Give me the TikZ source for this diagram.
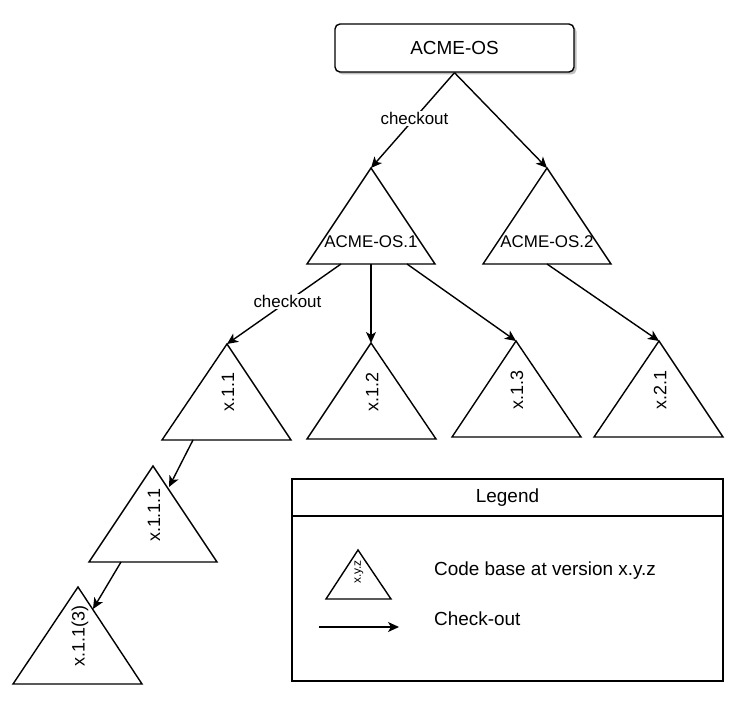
\documentclass[tikz,border=0pt]{standalone}
\usepackage{fontspec}
\setmainfont{Liberation Sans}
\usetikzlibrary{arrows.meta,shadows}
\tikzset{
  rootbox/.style={draw, line width=1.4bp, rounded corners=5bp, minimum width=239bp, minimum height=48bp,
    inner sep=0pt, fill=white, font=\fontsize{19}{22}\selectfont,
    drop shadow={shadow xshift=2.5bp, shadow yshift=-2.5bp, fill=black, opacity=0.25}},
  tri/.style={draw, line width=1.4bp, line join=miter},
  lbl/.style={inner sep=0pt, font=\fontsize{17}{20}\selectfont},
  vlbl/.style={lbl, rotate=90, font=\fontsize{18}{20}\selectfont},
  edgelbl/.style={fill=white, inner sep=1.5bp, font=\fontsize{17}{20}\selectfont},
  conn/.style={draw, line width=1.4bp, -{Stealth[length=11bp,width=10bp,inset=3bp]}},
  legbox/.style={draw, line width=1.8bp, minimum width=431bp, inner sep=0pt},
  legtext/.style={inner sep=0pt, anchor=west, font=\fontsize{19}{22}\selectfont},
}
\begin{document}
\begin{tikzpicture}[x=1bp,y=-1bp]
\useasboundingbox (0,0) rectangle (746,713);

% root
\node[rootbox] (root) at (454.5,48) {ACME-OS};

% ACME-OS.1
\coordinate (a1top) at (371,168); \coordinate (a1l) at (307,264); \coordinate (a1r) at (435,264);
\draw[tri] (a1top) -- (a1r) -- (a1l) -- cycle;
\node[lbl] (a1txt) at (371,242) {ACME-OS.1};
% ACME-OS.2
\coordinate (a2top) at (547,168); \coordinate (a2l) at (483,264); \coordinate (a2r) at (611,264);
\draw[tri] (a2top) -- (a2r) -- (a2l) -- cycle;
\node[lbl] (a2txt) at (547,242) {ACME-OS.2};

% x.1.1
\coordinate (t11top) at (227,344); \coordinate (t11l) at (162,440); \coordinate (t11r) at (291,440);
\draw[tri] (t11top) -- (t11r) -- (t11l) -- cycle;
\node[vlbl] (t11txt) at (228,392) {x.1.1};
% x.1.2
\coordinate (t12top) at (371,343); \coordinate (t12l) at (307,439); \coordinate (t12r) at (436,439);
\draw[tri] (t12top) -- (t12r) -- (t12l) -- cycle;
\node[vlbl] (t12txt) at (372,392) {x.1.2};
% x.1.3
\coordinate (t13top) at (516,341); \coordinate (t13l) at (452,437); \coordinate (t13r) at (581,437);
\draw[tri] (t13top) -- (t13r) -- (t13l) -- cycle;
\node[vlbl] (t13txt) at (517,390) {x.1.3};
% x.2.1
\coordinate (t21top) at (659,341); \coordinate (t21l) at (594,437); \coordinate (t21r) at (723,437);
\draw[tri] (t21top) -- (t21r) -- (t21l) -- cycle;
\node[vlbl] (t21txt) at (660,390) {x.2.1};
% x.1.1.1
\coordinate (t111top) at (153,466); \coordinate (t111l) at (89,562); \coordinate (t111r) at (217,562);
\draw[tri] (t111top) -- (t111r) -- (t111l) -- cycle;
\node[vlbl] (t111txt) at (154,515) {x.1.1.1};
% x.1.1(3)
\coordinate (t113top) at (78,587); \coordinate (t113l) at (13,684); \coordinate (t113r) at (142,684);
\draw[tri] (t113top) -- (t113r) -- (t113l) -- cycle;
\node[vlbl] (t113txt) at (80,636) {x.1.1(3)};

% connector end points
\coordinate (a1o1) at (341,264);
\coordinate (a1o2) at (371,264);
\coordinate (a1o3) at (407,264);
\coordinate (a2o1) at (547,264);
\coordinate (t11o) at (193,440);
\coordinate (t111in) at (169,487);
\coordinate (t111o) at (121,562);
\coordinate (t113in) at (93,609);

% connectors
\draw[conn] (root.south) -- (a1top) node[edgelbl, pos=0.48] (ck1) {checkout};
\draw[conn] (root.south) -- (a2top);
\draw[conn] (a1o1) -- (t11top) node[edgelbl, pos=0.47] (ck2) {checkout};
\draw[conn] (a1o2) -- (t12top);
\draw[conn] (a1o3) -- (t13top);
\draw[conn] (a2o1) -- (t21top);
\draw[conn] (t11o) -- (t111in);
\draw[conn] (t111o) -- (t113in);

% legend
\node[legbox, minimum height=37bp, font=\fontsize{19}{22}\selectfont] (leghead) at (507.5,497.5) {Legend};
\node[legbox, minimum height=165bp] (legbody) at (507.5,598.5) {};
\coordinate (lttop) at (358,550); \coordinate (ltl) at (326,599); \coordinate (ltr) at (391,599);
\draw[tri] (lttop) -- (ltr) -- (ltl) -- cycle;
\node[inner sep=0pt, rotate=90, font=\fontsize{12}{14}\selectfont] (lttxt) at (359,572) {x.y.z};
\coordinate (lgs) at (319,627); \coordinate (lge) at (399,627);
\draw[conn] (lgs) -- (lge);
\node[legtext] (leg1) at (434,571) {Code base at version x.y.z};
\node[legtext] (leg2) at (434,619) {Check-out};
\end{tikzpicture}
\end{document}
